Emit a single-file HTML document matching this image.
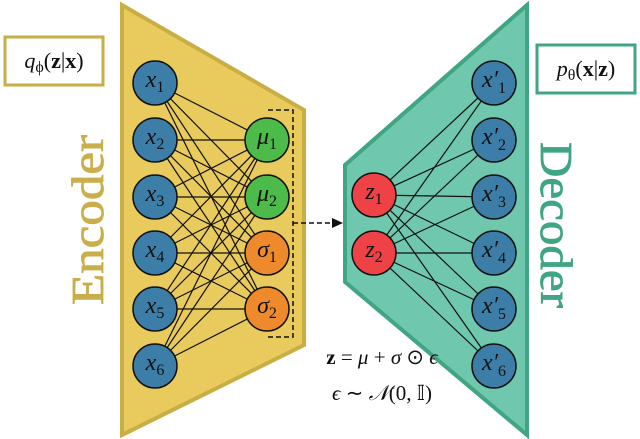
<!DOCTYPE html>
<html><head><meta charset="utf-8"><style>
html,body{margin:0;padding:0;background:#fff;}
svg{display:block;}
.m{font-family:"Liberation Serif",serif;font-style:italic;font-size:24px;fill:#111;}
.s{font-family:"Liberation Serif",serif;font-size:16px;font-style:normal;}
</style></head><body>
<svg width="640" height="439" viewBox="0 0 640 439" xmlns="http://www.w3.org/2000/svg">
<polygon points="122,5 304,110 304,345 122,435" fill="#E8CB5C" stroke="#C9AE45" stroke-width="4"/>
<polygon points="527,5 345,165 345,282 527,435" fill="#6FC7AE" stroke="#3FA582" stroke-width="4"/>
<g stroke="#111" stroke-width="1.2">
<line x1="155" y1="83" x2="267" y2="140"/><line x1="155" y1="83" x2="267" y2="197"/><line x1="155" y1="83" x2="267" y2="253"/><line x1="155" y1="83" x2="267" y2="309"/>
<line x1="155" y1="140" x2="267" y2="140"/><line x1="155" y1="140" x2="267" y2="197"/><line x1="155" y1="140" x2="267" y2="253"/><line x1="155" y1="140" x2="267" y2="309"/>
<line x1="155" y1="197" x2="267" y2="140"/><line x1="155" y1="197" x2="267" y2="197"/><line x1="155" y1="197" x2="267" y2="253"/><line x1="155" y1="197" x2="267" y2="309"/>
<line x1="155" y1="253" x2="267" y2="140"/><line x1="155" y1="253" x2="267" y2="197"/><line x1="155" y1="253" x2="267" y2="253"/><line x1="155" y1="253" x2="267" y2="309"/>
<line x1="155" y1="309" x2="267" y2="140"/><line x1="155" y1="309" x2="267" y2="197"/><line x1="155" y1="309" x2="267" y2="253"/><line x1="155" y1="309" x2="267" y2="309"/>
<line x1="155" y1="366" x2="267" y2="140"/><line x1="155" y1="366" x2="267" y2="197"/><line x1="155" y1="366" x2="267" y2="253"/><line x1="155" y1="366" x2="267" y2="309"/>
<line x1="374" y1="195" x2="494" y2="83"/><line x1="374" y1="195" x2="494" y2="140"/><line x1="374" y1="195" x2="494" y2="197"/><line x1="374" y1="195" x2="494" y2="253"/><line x1="374" y1="195" x2="494" y2="309"/><line x1="374" y1="195" x2="494" y2="366"/>
<line x1="374" y1="253" x2="494" y2="83"/><line x1="374" y1="253" x2="494" y2="140"/><line x1="374" y1="253" x2="494" y2="197"/><line x1="374" y1="253" x2="494" y2="253"/><line x1="374" y1="253" x2="494" y2="309"/><line x1="374" y1="253" x2="494" y2="366"/>
</g>
<path d="M268,110 H293 V337 H268" fill="none" stroke="#111" stroke-width="1.5" stroke-dasharray="5,3"/>
<line x1="293" y1="223" x2="333" y2="223" stroke="#111" stroke-width="1.5" stroke-dasharray="5,3"/>
<polygon points="343,223 332,218 332,228" fill="#111"/>
<g stroke="#111" stroke-width="1.5">
<circle cx="155" cy="83" r="22" fill="#3C7EA8"/><circle cx="155" cy="140" r="22" fill="#3C7EA8"/>
<circle cx="155" cy="197" r="22" fill="#3C7EA8"/><circle cx="155" cy="253" r="22" fill="#3C7EA8"/>
<circle cx="155" cy="309" r="22" fill="#3C7EA8"/><circle cx="155" cy="366" r="22" fill="#3C7EA8"/>
<circle cx="267" cy="140" r="22" fill="#4CBB4A"/><circle cx="267" cy="197" r="22" fill="#4CBB4A"/>
<circle cx="267" cy="253" r="22" fill="#EE8A2B"/><circle cx="267" cy="309" r="22" fill="#EE8A2B"/>
<circle cx="374" cy="195" r="22" fill="#EE4246"/><circle cx="374" cy="253" r="22" fill="#EE4246"/>
<circle cx="494" cy="83" r="22" fill="#3C7EA8"/><circle cx="494" cy="140" r="22" fill="#3C7EA8"/>
<circle cx="494" cy="197" r="22" fill="#3C7EA8"/><circle cx="494" cy="253" r="22" fill="#3C7EA8"/>
<circle cx="494" cy="309" r="22" fill="#3C7EA8"/><circle cx="494" cy="366" r="22" fill="#3C7EA8"/>
</g>
<g class="m" text-anchor="middle">
<text x="155" y="87">x<tspan class="s" dy="5">1</tspan></text>
<text x="155" y="144">x<tspan class="s" dy="5">2</tspan></text>
<text x="155" y="201">x<tspan class="s" dy="5">3</tspan></text>
<text x="155" y="257">x<tspan class="s" dy="5">4</tspan></text>
<text x="155" y="313">x<tspan class="s" dy="5">5</tspan></text>
<text x="155" y="370">x<tspan class="s" dy="5">6</tspan></text>
<text x="267" y="144">μ<tspan class="s" dy="5">1</tspan></text>
<text x="267" y="201">μ<tspan class="s" dy="5">2</tspan></text>
<text x="267" y="257">σ<tspan class="s" dy="5">1</tspan></text>
<text x="267" y="313">σ<tspan class="s" dy="5">2</tspan></text>
<text x="374" y="199">z<tspan class="s" dy="5">1</tspan></text>
<text x="374" y="257">z<tspan class="s" dy="5">2</tspan></text>
<text x="494" y="87">x′<tspan class="s" dy="6">1</tspan></text>
<text x="494" y="144">x′<tspan class="s" dy="6">2</tspan></text>
<text x="494" y="201">x′<tspan class="s" dy="6">3</tspan></text>
<text x="494" y="257">x′<tspan class="s" dy="6">4</tspan></text>
<text x="494" y="313">x′<tspan class="s" dy="6">5</tspan></text>
<text x="494" y="370">x′<tspan class="s" dy="6">6</tspan></text>
</g>
<rect x="5" y="37" width="98" height="48" fill="#fff" stroke="#C9AE45" stroke-width="3"/>
<text x="54" y="68" text-anchor="middle" class="m" style="font-size:22px">q<tspan class="s" dy="4">ϕ</tspan><tspan dy="-4" style="font-style:normal">(</tspan><tspan style="font-style:normal;font-weight:bold">z</tspan><tspan style="font-style:normal">|</tspan><tspan style="font-style:normal;font-weight:bold">x</tspan><tspan style="font-style:normal">)</tspan></text>
<rect x="537" y="45" width="98" height="48" fill="#fff" stroke="#3FA582" stroke-width="3"/>
<text x="586" y="76" text-anchor="middle" class="m" style="font-size:22px">p<tspan class="s" dy="4">θ</tspan><tspan dy="-4" style="font-style:normal">(</tspan><tspan style="font-style:normal;font-weight:bold">x</tspan><tspan style="font-style:normal">|</tspan><tspan style="font-style:normal;font-weight:bold">z</tspan><tspan style="font-style:normal">)</tspan></text>
<text transform="translate(103,305) rotate(-90)" textLength="170" lengthAdjust="spacingAndGlyphs" style="font-family:'Liberation Serif',serif;font-size:46px;fill:#C9AE4A;stroke:#C9AE4A;stroke-width:0.8">Encoder</text>
<text transform="translate(541,142) rotate(90)" textLength="166" lengthAdjust="spacingAndGlyphs" style="font-family:'Liberation Serif',serif;font-size:46px;fill:#3FA582;stroke:#3FA582;stroke-width:0.8">Decoder</text>
<text x="382" y="364" text-anchor="middle" style="font-family:'Liberation Serif',serif;font-size:21px;fill:#111"><tspan font-weight="bold">z</tspan> = <tspan font-style="italic">μ</tspan> + <tspan font-style="italic">σ</tspan> ⊙ <tspan font-style="italic">ϵ</tspan></text>
<text x="382" y="400" text-anchor="middle" style="font-family:'Liberation Serif',serif;font-size:21px;fill:#111"><tspan font-style="italic">ϵ</tspan> ∼ <tspan font-style="italic">𝒩</tspan>(0, 𝕀)</text>
</svg>
</body></html>
